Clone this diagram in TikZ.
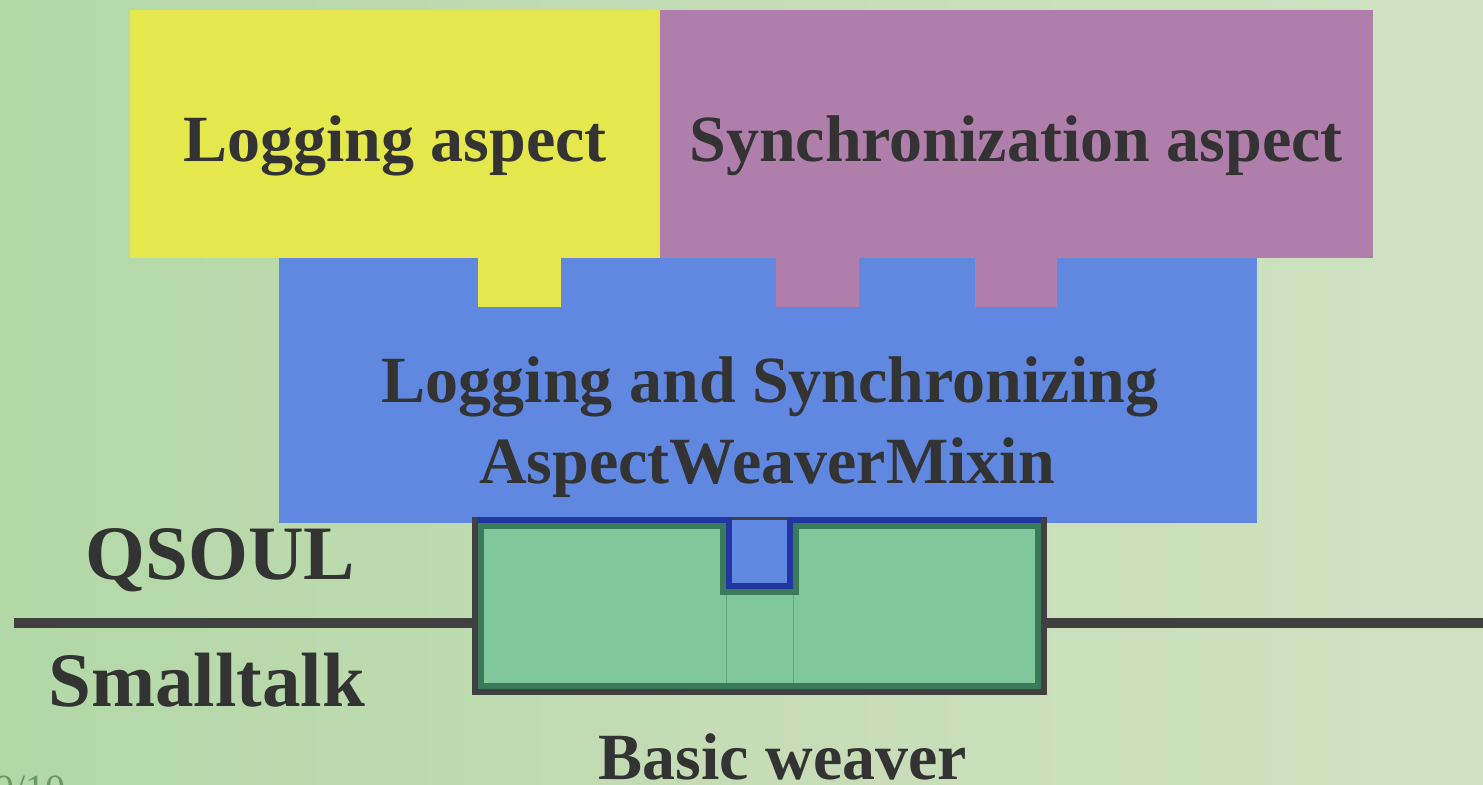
\documentclass[tikz,border=0pt]{standalone}
\usepackage{fontspec}
\setmainfont{Liberation Serif}
\definecolor{bg}{HTML}{C6DCB6}
\definecolor{bgl}{HTML}{B2D8A6}
\definecolor{bgr}{HTML}{CFE2C2}
\definecolor{yel}{HTML}{E4E84C}
\definecolor{pur}{HTML}{B07EAA}
\definecolor{blu}{HTML}{6088E0}
\definecolor{grn}{HTML}{80C89C}
\definecolor{dgrn}{HTML}{3A7A5A}
\definecolor{dgray}{HTML}{404040}
\definecolor{dblu}{HTML}{2236A0}
\definecolor{txt}{HTML}{333333}
\tikzset{
  lbl/.style={anchor=base, text=txt, font=\bfseries\fontsize{33}{41}\selectfont, inner sep=0pt},
  biglbl/.style={anchor=base west, text=txt, font=\bfseries\fontsize{38.5}{46}\selectfont, inner sep=0pt},
}
\begin{document}
\begin{tikzpicture}[x=0.5pt,y=-0.5pt]
\useasboundingbox (0,0) rectangle (1483,785);
% background
\shade[left color=bgl, right color=bgr, middle color=bg] (0,0) rectangle (1483,785);
% base line
\coordinate (lineL) at (14,623);
\coordinate (lineR) at (1483,623);
\draw[dgray, line width=5pt] (lineL) -- (lineR);
% aspect boxes
\fill[yel] (130,10) rectangle (660,258.5);
\fill[pur] (660,10) rectangle (1373,258.5);
\fill[blu] (279,258.5) rectangle (1257,523);
% tabs
\fill[yel] (478,258) rectangle (561,307.5);
\fill[pur] (775.5,258) rectangle (858.8,307.5);
\fill[pur] (974.5,258) rectangle (1057.4,307.5);
% weaver box
\draw[dgray, line width=3pt] (475,520) rectangle (1044,692);
\draw[dgrn, fill=grn, line width=3pt]
  (481,526) -- (723,526) -- (723,592) -- (796,592) -- (796,526) -- (1038,526) -- (1038,686) -- (481,686) -- cycle;
\draw[dgrn!45!grn, line width=0.4pt] (726,595) -- (726,683) (793,595) -- (793,683);
\fill[blu] (729,520) rectangle (789.5,586);
\draw[dblu, line width=3pt]
  (478,520) -- (729,520) -- (729,586) -- (789.5,586) -- (789.5,520) -- (1041,520);
% texts
\node[lbl] (log) at (395,162) {Logging aspect};
\node[lbl] (sync) at (1016,162) {Synchronization aspect};
\node[lbl] (mix1) at (770,403) {Logging and Synchronizing};
\node[lbl] (mix2) at (767,484) {AspectWeaverMixin};
\node[biglbl] (qsoul) at (85,580) {QSOUL};
\node[biglbl] (st) at (48,706) {Smalltalk};
\node[lbl] (bw) at (783,779) {Basic weaver};
\node[anchor=base west, inner sep=0pt, text=gray!80!green, font=\fontsize{20}{24}\selectfont] (pg) at (-6,802) {9/10};
\end{tikzpicture}
\end{document}
